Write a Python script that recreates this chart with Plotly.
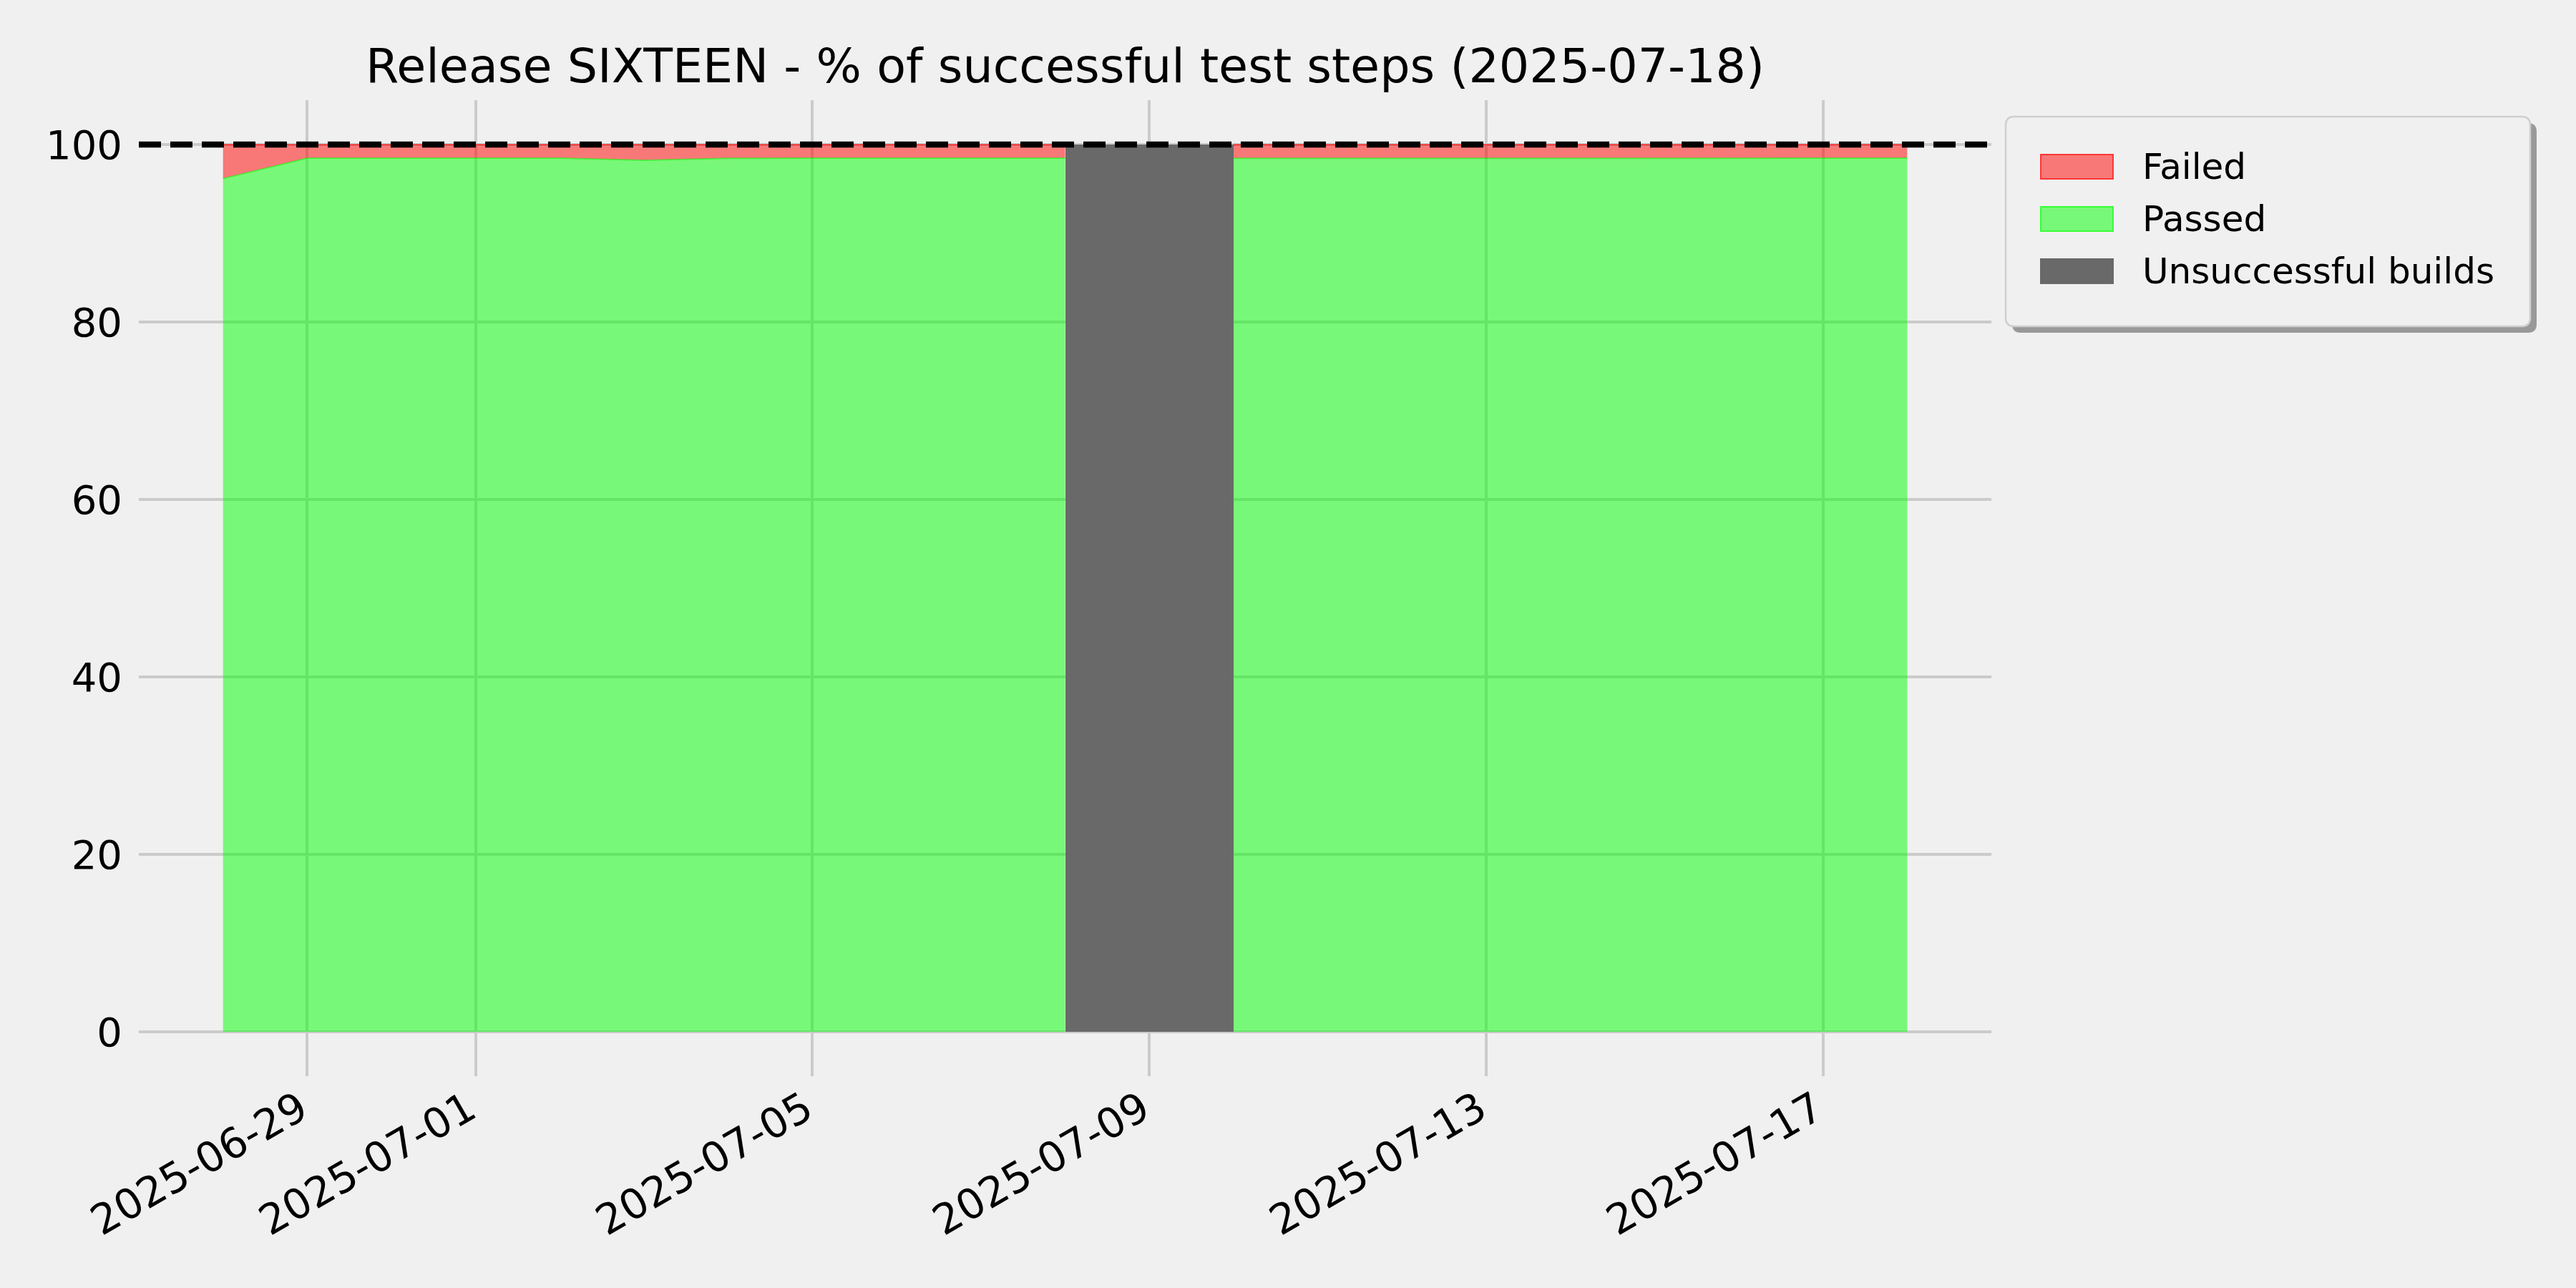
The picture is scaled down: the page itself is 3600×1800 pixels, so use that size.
import plotly.graph_objects as go

# ---------------- data ----------------
dates = [
    '2025-06-28', '2025-06-29', '2025-06-30', '2025-07-01', '2025-07-02',
    '2025-07-03', '2025-07-04', '2025-07-05', '2025-07-06', '2025-07-07',
    '2025-07-08', '2025-07-09', '2025-07-10', '2025-07-11', '2025-07-12',
    '2025-07-13', '2025-07-14', '2025-07-15', '2025-07-16', '2025-07-17',
    '2025-07-18',
]
passed = [
    96.16, 98.47, 98.47, 98.47, 98.46,
    98.22, 98.44, 98.47, 98.47, 98.47,
    98.47, None, 98.45, 98.45, 98.45,
    98.45, 98.46, 98.46, 98.46, 98.46,
    98.46,
]
failed = [
    3.84, 1.53, 1.53, 1.53, 1.54,
    1.78, 1.56, 1.53, 1.53, 1.53,
    1.53, None, 1.55, 1.55, 1.55,
    1.55, 1.54, 1.54, 1.54, 1.54,
    1.54,
]
unsuccessful_dates = ['2025-07-09']
unsuccessful_height = [100]

x_tick_vals = ['2025-06-29', '2025-07-01', '2025-07-05', '2025-07-09', '2025-07-13', '2025-07-17']
x_tick_text = ['2025-06-29', '2025-07-01', '2025-07-05', '2025-07-09', '2025-07-13', '2025-07-17']
y_tick_vals = [0, 20, 40, 60, 80, 100]
y_tick_text = ['0', '20', '40', '60', '80', '100']

title_text = 'Release SIXTEEN - % of successful test steps (2025-07-18)'
legend_labels = ['Failed', 'Passed', 'Unsuccessful builds']

# ---------------- style ----------------
BG = '#f0f0f0'
GRID = '#cbcbcb'
GREEN_FILL = 'rgba(0,255,0,0.5)'
RED_FILL = 'rgba(255,0,0,0.5)'
GRAY = '#696969'
FONT = 'DejaVu Sans'

W_FIG, H_FIG = 3600, 1800
L, R, T, B = 194, 817, 140, 296
PW = W_FIG - L - R
PH = H_FIG - T - B
BOTTOM_PX = H_FIG - B


def px_x(p):
    return (p - L) / PW


def px_y(p):
    return (BOTTOM_PX - p) / PH


fig = go.Figure()

# split into contiguous segments of successful builds
segments = []
cur = []
for i, p in enumerate(passed):
    if p is None:
        if cur:
            segments.append(cur)
        cur = []
    else:
        cur.append(i)
if cur:
    segments.append(cur)

for seg in segments:
    xs = [dates[i] for i in seg]
    ys_pass = [passed[i] for i in seg]
    ys_top = [passed[i] + failed[i] for i in seg]
    fig.add_trace(go.Scatter(
        x=xs, y=ys_pass, mode='lines', name='Passed',
        fill='tozeroy', fillcolor=GREEN_FILL,
        line=dict(color='rgba(0,255,0,0.5)', width=2),
        showlegend=False, hoverinfo='x+y'))
    fig.add_trace(go.Scatter(
        x=xs, y=ys_top, mode='lines', name='Failed',
        fill='tonexty', fillcolor=RED_FILL,
        line=dict(color='rgba(255,0,0,0.5)', width=2),
        showlegend=False, hoverinfo='x+y'))

fig.add_trace(go.Bar(
    x=unsuccessful_dates, y=unsuccessful_height,
    width=[2 * 86400000] * len(unsuccessful_dates),
    marker=dict(color=GRAY, line=dict(width=0)),
    name='Unsuccessful builds', showlegend=False))

shapes = []
# 100 % reference line
shapes.append(dict(type='line', xref='paper', x0=0, x1=1, yref='y', y0=100, y1=100,
                   line=dict(color='black', width=8.3, dash='31px,13px'), layer='above'))


def rounded_path(x0, y0, x1, y1, r):
    pts = [
        ('M', [(x0 + r, y0)]),
        ('L', [(x1 - r, y0)]),
        ('Q', [(x1, y0), (x1, y0 + r)]),
        ('L', [(x1, y1 - r)]),
        ('Q', [(x1, y1), (x1 - r, y1)]),
        ('L', [(x0 + r, y1)]),
        ('Q', [(x0, y1), (x0, y1 - r)]),
        ('L', [(x0, y0 + r)]),
        ('Q', [(x0, y0), (x0 + r, y0)]),
    ]
    s = ''
    for cmd, ps in pts:
        s += cmd + ' ' + ' '.join('%.6f,%.6f' % (px_x(a), px_y(b)) for a, b in ps) + ' '
    return s + 'Z'


# legend frame (shadow + box)
LX0, LY0, LX1, LY1 = 2803, 163, 3536, 456
shapes.append(dict(type='path', xref='paper', yref='paper',
                   path=rounded_path(LX0 + 9, LY0 + 9, LX1 + 9, LY1 + 9, 12),
                   fillcolor='#999999', line=dict(width=0), layer='above'))
shapes.append(dict(type='path', xref='paper', yref='paper',
                   path=rounded_path(LX0, LY0, LX1, LY1, 12),
                   fillcolor=BG, line=dict(color='#cfcfcf', width=2.5), layer='above'))

legend_fill = [RED_FILL, GREEN_FILL, GRAY]
legend_edge = ['rgba(255,40,40,0.9)', 'rgba(40,255,40,0.9)', GRAY]
row_y = [233, 306, 379]
annotations = []
for lab, fc, ec, ry in zip(legend_labels, legend_fill, legend_edge, row_y):
    shapes.append(dict(type='rect', xref='paper', yref='paper',
                       x0=px_x(2852), x1=px_x(2953), y0=px_y(ry + 17), y1=px_y(ry - 17),
                       fillcolor=fc, line=dict(color=ec, width=2), layer='above'))
    annotations.append(dict(text=lab, xref='paper', yref='paper', x=px_x(2992), y=px_y(ry),
                            xanchor='left', yanchor='middle', showarrow=False,
                            font=dict(family=FONT, size=50, color='black')))

fig.update_layout(
    width=W_FIG, height=H_FIG,
    margin=dict(l=L, r=R, t=T, b=B, autoexpand=False),
    paper_bgcolor=BG, plot_bgcolor=BG,
    font=dict(family=FONT, size=56, color='black'),
    title=dict(text=title_text, x=0.5, xref='paper', xanchor='center',
               y=1 - 92 / H_FIG, yref='container', yanchor='middle',
               font=dict(family=FONT, size=66.7, color='black')),
    showlegend=False,
    shapes=shapes,
    annotations=annotations,
    bargap=0,
)
fig.update_xaxes(
    type='date', range=['2025-06-27', '2025-07-19'],
    tickmode='array', tickvals=x_tick_vals, ticktext=x_tick_text,
    tickangle=-30, tickfont=dict(family=FONT, size=58, color='black'),
    showgrid=True, gridcolor=GRID, gridwidth=4,
    showline=False, zeroline=False, ticks='', ticklabelstandoff=0,
    ticklabelshift=-10,
)
fig.update_yaxes(
    range=[-5, 105], tickmode='array', tickvals=y_tick_vals, ticktext=y_tick_text,
    tickfont=dict(family=FONT, size=56, color='black'),
    showgrid=True, gridcolor=GRID, gridwidth=4,
    showline=False, zeroline=False, ticks='', ticklabelstandoff=22,
)

fig.write_html('out.html', config={'displayModeBar': False},
               post_script="document.body.style.margin='0px';document.body.style.background='#f0f0f0';")
